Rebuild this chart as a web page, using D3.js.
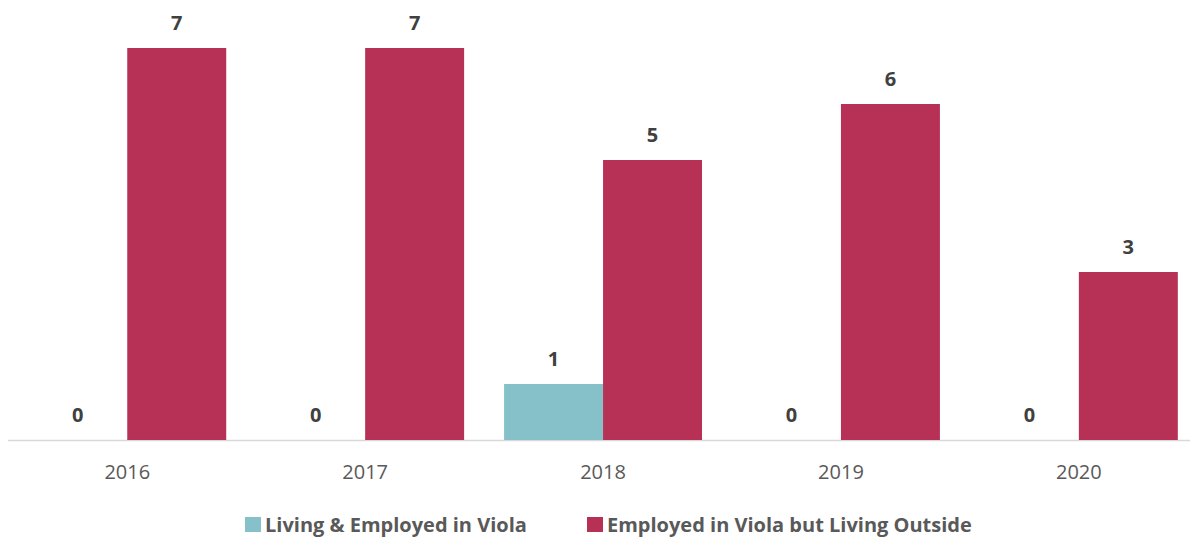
<!DOCTYPE html>
<html>
<head>
<meta charset="utf-8">
<script src="https://cdn.jsdelivr.net/npm/d3@7"></script>
<style>
  html, body { margin: 0; padding: 0; background: #fff; }
  svg { display: block; font-family: "Open Sans", sans-serif; }
</style>
</head>
<body>
<svg id="chart" width="1190" height="542"></svg>
<script>
const years = ["2016", "2017", "2018", "2019", "2020"];
const seriesNames = ["Living & Employed in Viola", "Employed in Viola but Living Outside"];
const livingEmployed = [0, 0, 1, 0, 0];
const employedOutside = [7, 7, 5, 6, 3];
const seriesColors = ["#86C1C9", "#B73055"];

const svg = d3.select("#chart");
const baseY = 440;

const x = d3.scaleBand().domain(years).range([8.3, 1197.8]).paddingInner(0.168).paddingOuter(0.084);
const sub = d3.scaleBand().domain([0, 1]).range([0, x.bandwidth()]);
const y = d3.scaleLinear().domain([0, 7]).range([baseY, 48]);

const rows = years.map((yr, i) => ({ year: yr, values: [livingEmployed[i], employedOutside[i]] }));

// axis line
svg.append("line")
  .attr("x1", 8).attr("x2", 1190)
  .attr("y1", baseY + 0.5).attr("y2", baseY + 0.5)
  .attr("stroke", "#d9d9d9").attr("stroke-width", 1.5);

const groups = svg.selectAll("g.year").data(rows).join("g")
  .attr("class", "year")
  .attr("transform", d => `translate(${x(d.year)},0)`);

groups.selectAll("rect").data(d => d.values.map((v, s) => ({ v, s }))).join("rect")
  .attr("x", d => sub(d.s))
  .attr("width", sub.bandwidth())
  .attr("y", d => y(d.v))
  .attr("height", d => baseY - y(d.v))
  .attr("fill", d => seriesColors[d.s]);

groups.selectAll("text.val").data(d => d.values.map((v, s) => ({ v, s }))).join("text")
  .attr("class", "val")
  .attr("x", d => sub(d.s) + sub.bandwidth() / 2)
  .attr("y", d => y(d.v) - 18)
  .attr("text-anchor", "middle")
  .attr("font-size", 20)
  .attr("font-weight", "bold")
  .attr("fill", "#404040")
  .text(d => d.v);

// category labels
const xAxis = d3.axisBottom(x).tickSize(0).tickPadding(0);
const ax = svg.append("g").attr("transform", `translate(0,${baseY})`).call(xAxis);
ax.select(".domain").remove();
ax.selectAll("text")
  .attr("y", 39).attr("dy", 0)
  .attr("font-size", 20)
  .attr("font-family", "'Open Sans', sans-serif")
  .attr("fill", "#595959");

// legend
const legendItems = [
  { name: seriesNames[0], color: seriesColors[0], x: 245 },
  { name: seriesNames[1], color: seriesColors[1], x: 587 }
];
const lg = svg.append("g").selectAll("g").data(legendItems).join("g")
  .attr("transform", d => `translate(${d.x},0)`);
lg.append("rect").attr("x", 0).attr("y", 517).attr("width", 16).attr("height", 15).attr("fill", d => d.color);
lg.append("text").attr("x", 20).attr("y", 532)
  .attr("font-size", 20).attr("font-weight", "bold").attr("fill", "#595959")
  .text(d => d.name);
</script>
</body>
</html>
